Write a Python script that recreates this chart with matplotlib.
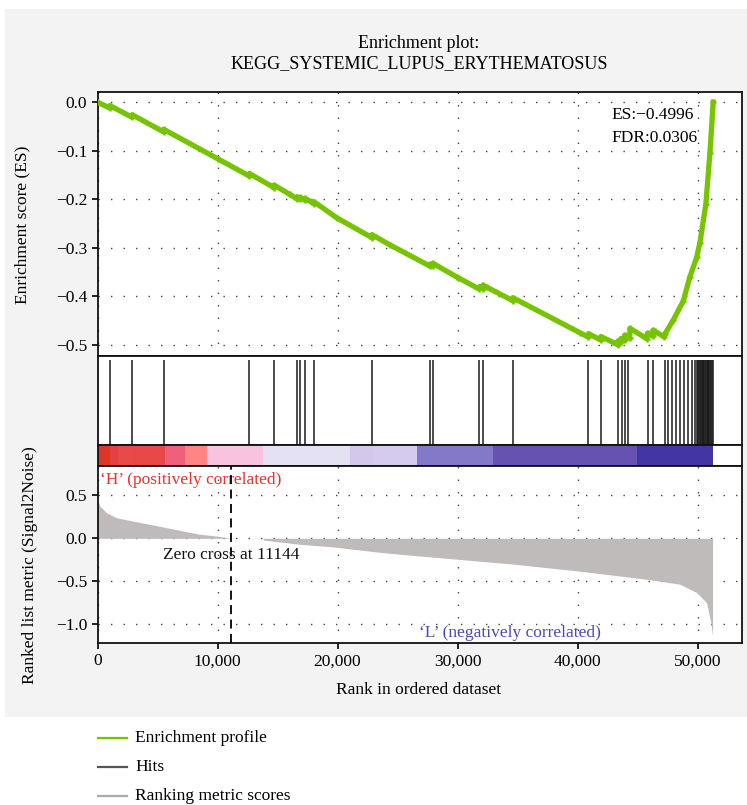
import matplotlib
matplotlib.use("Agg")
import matplotlib.pyplot as plt
from matplotlib.patches import Rectangle
from matplotlib.lines import Line2D
import numpy as np

plt.rcParams['font.family'] = ['Liberation Serif', 'DejaVu Serif']

# ---------------- data ----------------
title_lines = ["Enrichment plot:", "KEGG_SYSTEMIC_LUPUS_ERYTHEMATOSUS"]
n_genes = 51300
es_label = "ES:\u22120.4996"
fdr_label = "FDR:0.0306"
zero_cross = 11144

es_rank = [0, 1020, 1030, 2880, 2895, 5500, 5515, 10050, 12640, 12655, 14710, 14725,
           16025, 16600, 16615, 16900, 16905, 17275, 17280, 18020, 18030, 19920,
           22850, 22865, 24360, 27720, 27735, 27930, 27945, 29920, 31810, 31825,
           32100, 32115, 32420, 34600, 34615, 40190, 40900, 40915, 41930, 41945,
           43360, 43370, 43600, 43615, 43920, 43935, 44350, 44365, 45750, 45830,
           46270, 46285, 46440, 47180, 47270, 47970, 48800, 49360, 49920, 50190,
           50690, 51025, 51300]
es_vals = [0.000, -0.012, -0.007, -0.031, -0.026, -0.061, -0.056, -0.117, -0.152, -0.147,
           -0.176, -0.171, -0.190, -0.199, -0.195, -0.200, -0.196, -0.202, -0.198, -0.209,
           -0.205, -0.238, -0.279, -0.273, -0.294, -0.338, -0.334, -0.338, -0.332, -0.360,
           -0.385, -0.380, -0.384, -0.377, -0.381, -0.409, -0.403, -0.475, -0.484, -0.477,
           -0.490, -0.483, -0.4996, -0.492, -0.495, -0.487, -0.491, -0.480, -0.486, -0.466,
           -0.487, -0.476, -0.482, -0.470, -0.472, -0.483, -0.478, -0.449, -0.410, -0.360,
           -0.320, -0.290, -0.210, -0.105, 0.000]

hit_ranks = [1025, 2890, 5510, 12650, 14720, 16610, 16900, 17275, 18025, 22860,
             27730, 27940, 31820, 32110, 34610, 40910, 41940, 43360, 43670, 43940,
             44190, 45860, 46250, 47310, 47560, 47890, 48230, 48560, 48890, 49230,
             49560, 49810, 49990, 50060, 50130, 50200, 50270, 50340, 50410, 50480,
             50550, 50620, 50690, 50760, 50830, 50900, 50970, 51040, 51110, 51180,
             51250]

bar_edges = [0, 1025, 1690, 2860, 5610, 7280, 9110, 13780, 21025, 22940, 26610,
             32940, 44940, 51270]
bar_colors = ['#df3526', '#e54040', '#e84a4a', '#e84848', '#f0607a', '#ff8585',
              '#f9c2df', '#e5e1f5', '#d3c7ec', '#d5cbee', '#8479c8', '#6652b1',
              '#4335a2']

metric_rank = [0, 190, 750, 1580, 2970, 4360, 5750, 7140, 8525, 9920, 10890, 11144,
               13790, 13800, 16860, 19600, 23530, 25200, 30000, 34600, 40000, 45750,
               48520, 49900, 50750, 51100, 51250]
metric_vals = [0.453, 0.376, 0.298, 0.240, 0.200, 0.163, 0.124, 0.085, 0.047, 0.027,
               0.005, 0.0, 0.0, -0.02, -0.07, -0.10, -0.163, -0.186, -0.244, -0.300,
               -0.380, -0.477, -0.535, -0.630, -0.750, -0.980, -1.140]

xticks = [0, 10000, 20000, 30000, 40000, 50000]
xtick_labels = ["0", "10,000", "20,000", "30,000", "40,000", "50,000"]
es_yticks = [0.0, -0.1, -0.2, -0.3, -0.4, -0.5]
metric_yticks = [0.5, 0.0, -0.5, -1.0]

legend_labels = ["Enrichment profile", "Hits", "Ranking metric scores"]
legend_colors = ['#76c400', '#555555', '#aaaaaa']

# ---------------- figure ----------------
W, H = 747, 805
fig = plt.figure(figsize=(W / 100, H / 100), dpi=100)
fig.patch.set_facecolor('white')

def fx(px):
    return px / W

def fy(py):
    return 1 - py / H

fig.add_artist(Rectangle((fx(5), fy(717)), fx(W - 5), (717 - 9) / H,
                         transform=fig.transFigure, facecolor='#f3f3f3',
                         edgecolor='none', zorder=-10))

L, R = 97.5, 742
xlim = (0, 53700)
grid_kw = dict(color='#444444', linestyle=(0, (1, 8)), linewidth=1.0)
FS = 12.5

ax_es = fig.add_axes([fx(L), fy(356.5), fx(R - L), (356.5 - 92) / H])
ax_hit = fig.add_axes([fx(L), fy(444.5), fx(R - L), (444.5 - 356.5) / H])
ax_bar = fig.add_axes([fx(L), fy(466.5), fx(R - L), (466.5 - 444.5) / H])
ax_m = fig.add_axes([fx(L), fy(643), fx(R - L), (643 - 466.5) / H])

for ax in (ax_es, ax_hit, ax_bar, ax_m):
    ax.set_xlim(*xlim)
    for s in ax.spines.values():
        s.set_linewidth(1.3)
        s.set_color('#111111')

# ES panel
ax_es.plot(es_rank, es_vals, color='#76c400', lw=3.8, marker='+', ms=5, mew=1.8,
           solid_joinstyle='round', zorder=3)
ax_es.set_ylim(-0.524, 0.021)
ax_es.set_yticks(es_yticks)
ax_es.set_yticklabels([f"{v:.1f}".replace('-', '\u2212') for v in es_yticks], fontsize=FS)
ax_es.set_xticks(xticks)
ax_es.tick_params(axis='x', labelbottom=False, length=0)
ax_es.tick_params(axis='y', direction='out', length=4, width=1.2)
ax_es.grid(True, **grid_kw)
ax_es.set_axisbelow(True)

# Hits
ax_hit.vlines(hit_ranks, 0.0, 0.96, color='#1a1a1a', lw=1.1)
ax_hit.set_ylim(0, 1)
ax_hit.set_xticks([])
ax_hit.set_yticks([])

# Colour bar
for i, c in enumerate(bar_colors):
    ax_bar.axvspan(bar_edges[i], bar_edges[i + 1], color=c, lw=0)
ax_bar.set_xticks([])
ax_bar.set_yticks([])

# Ranked metric
ax_m.fill_between(metric_rank, metric_vals, 0, color='#c0bbbb', lw=0, zorder=2)
ax_m.set_ylim(-1.22, 0.837)
ax_m.set_yticks(metric_yticks)
ax_m.set_yticklabels([f"{v:.1f}".replace('-', '\u2212') for v in metric_yticks], fontsize=FS)
ax_m.set_xticks(xticks)
ax_m.set_xticklabels(xtick_labels, fontsize=FS)
ax_m.tick_params(direction='out', length=4, width=1.2)
ax_m.grid(True, **grid_kw)
ax_m.set_axisbelow(True)
ax_m.axvline(zero_cross, color='black', lw=1.3, linestyle=(0, (5, 3)), zorder=4)
ax_m.text(zero_cross, -0.2, f"Zero cross at {zero_cross}", ha='center', va='center',
          fontsize=FS, color='#111111', zorder=5)
ax_m.text(200, 0.68, "\u2018H\u2019 (positively correlated)", ha='left', va='center',
          fontsize=FS, color='#e8312a')
ax_m.text(34400, -1.1, "\u2018L\u2019 (negatively correlated)", ha='center', va='center',
          fontsize=FS, color='#4a4ab4')

# texts
fig.text(fx(419), fy(43), title_lines[0], ha='center', va='center', fontsize=13)
fig.text(fx(419), fy(64), title_lines[1], ha='center', va='center', fontsize=13)
fig.text(fx(611), fy(115), es_label, ha='left', va='center', fontsize=FS)
fig.text(fx(611), fy(138), fdr_label, ha='left', va='center', fontsize=FS)
fig.text(fx(22), fy(225), "Enrichment score (ES)", rotation=90, ha='center',
         va='center', fontsize=FS)
fig.text(fx(30), fy(565), "Ranked list metric (Signal2Noise)", rotation=90,
         ha='center', va='center', fontsize=FS)
fig.text(fx(419), fy(690), "Rank in ordered dataset", ha='center', va='center',
         fontsize=FS)

# legend
for i, (lab, col) in enumerate(zip(legend_labels, legend_colors)):
    yy = fy(738 + 29 * i)
    fig.add_artist(Line2D([fx(98), fx(127)], [yy, yy], color=col, lw=1.6,
                          transform=fig.transFigure))
    fig.text(fx(135), yy, lab, ha='left', va='center', fontsize=FS)

fig.savefig("out.png", dpi=100)
